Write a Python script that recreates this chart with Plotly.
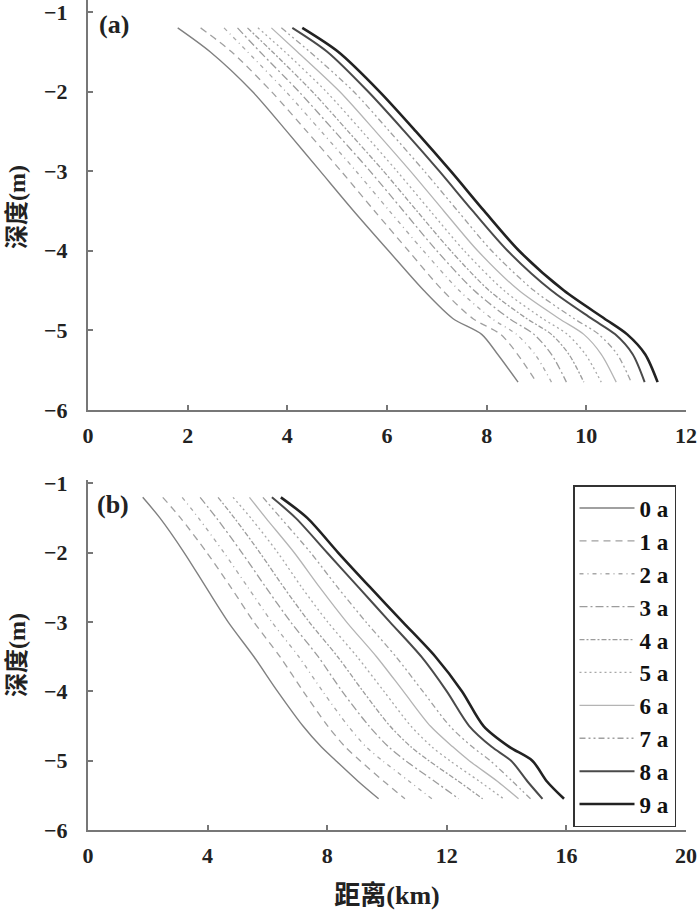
import plotly.graph_objects as go

# ---------------- data ----------------
years = ["0 a", "1 a", "2 a", "3 a", "4 a", "5 a", "6 a", "7 a", "8 a", "9 a"]

# panel (a): depth levels (m) and distance (km) of each yearly profile
depth_a = [-1.2, -1.5, -2.0, -2.5, -3.0, -3.5, -4.0, -4.5, -4.85, -5.05, -5.3, -5.65]
a_0 = [1.80, 2.45, 3.30, 3.99, 4.66, 5.33, 6.03, 6.74, 7.32, 7.90, 8.22, 8.63]
a_1 = [2.26, 2.88, 3.68, 4.39, 5.08, 5.75, 6.43, 7.12, 7.72, 8.28, 8.62, 9.00]
a_2 = [2.73, 3.20, 3.97, 4.68, 5.38, 6.05, 6.73, 7.45, 8.10, 8.60, 8.97, 9.30]
a_3 = [3.00, 3.45, 4.23, 4.95, 5.66, 6.33, 7.00, 7.75, 8.45, 8.95, 9.30, 9.60]
a_4 = [3.20, 3.70, 4.50, 5.22, 5.93, 6.60, 7.28, 8.05, 8.80, 9.30, 9.65, 9.95]
a_5 = [3.41, 3.95, 4.78, 5.50, 6.20, 6.87, 7.55, 8.35, 9.12, 9.62, 9.98, 10.30]
a_6 = [3.68, 4.20, 5.05, 5.77, 6.47, 7.14, 7.82, 8.65, 9.45, 9.95, 10.30, 10.60]
a_7 = [3.88, 4.45, 5.33, 6.05, 6.75, 7.42, 8.10, 8.95, 9.75, 10.25, 10.62, 10.90]
a_8 = [4.10, 4.80, 5.62, 6.35, 7.05, 7.72, 8.42, 9.30, 10.10, 10.58, 10.93, 11.17]
a_9 = [4.30, 5.02, 5.85, 6.58, 7.28, 7.95, 8.65, 9.55, 10.36, 10.82, 11.18, 11.43]

# panel (b)
depth_b = [-1.2, -1.5, -2.0, -2.5, -3.0, -3.5, -4.0, -4.5, -4.8, -5.0, -5.3, -5.55]
b_0 = [1.83, 2.41, 3.22, 3.95, 4.69, 5.55, 6.34, 7.19, 7.80, 8.29, 9.04, 9.72]
b_1 = [2.50, 3.10, 3.98, 4.78, 5.55, 6.42, 7.20, 8.02, 8.60, 9.10, 9.90, 10.60]
b_2 = [3.15, 3.70, 4.55, 5.35, 6.15, 7.05, 7.85, 8.70, 9.30, 9.85, 10.75, 11.50]
b_3 = [3.75, 4.30, 5.15, 5.95, 6.78, 7.70, 8.50, 9.40, 10.05, 10.62, 11.60, 12.40]
b_4 = [4.35, 4.90, 5.75, 6.55, 7.40, 8.35, 9.20, 10.10, 10.80, 11.40, 12.40, 13.20]
b_5 = [4.85, 5.45, 6.35, 7.15, 8.02, 9.00, 9.90, 10.80, 11.50, 12.10, 13.10, 13.90]
b_6 = [5.40, 5.95, 6.90, 7.75, 8.65, 9.65, 10.55, 11.45, 12.20, 12.75, 13.70, 14.40]
b_7 = [5.85, 6.45, 7.45, 8.35, 9.30, 10.30, 11.20, 12.10, 12.85, 13.45, 14.20, 14.80]
b_8 = [6.15, 6.95, 8.00, 9.05, 10.10, 11.15, 12.00, 12.75, 13.50, 14.15, 14.70, 15.20]
b_9 = [6.45, 7.34, 8.37, 9.44, 10.53, 11.62, 12.51, 13.23, 14.09, 14.86, 15.35, 15.92]

x_ticks_a = [0, 2, 4, 6, 8, 10, 12]
x_ticks_b = [0, 4, 8, 12, 16, 20]
y_ticks = [-1, -2, -3, -4, -5, -6]

series_a = [a_0, a_1, a_2, a_3, a_4, a_5, a_6, a_7, a_8, a_9]
series_b = [b_0, b_1, b_2, b_3, b_4, b_5, b_6, b_7, b_8, b_9]

# ---------------- styles ----------------
styles = [
    dict(color="#808080", width=1.4, dash="solid"),
    dict(color="#a0a0a0", width=1.3, dash="7px,5px"),
    dict(color="#a8a8a8", width=1.3, dash="4px,4px,1px,4px"),
    dict(color="#9c9c9c", width=1.3, dash="8px,3px,2px,3px"),
    dict(color="#9c9c9c", width=1.3, dash="5px,2px,2px,2px"),
    dict(color="#a8a8a8", width=1.3, dash="2px,3px"),
    dict(color="#b4b4b4", width=1.3, dash="solid"),
    dict(color="#a0a0a0", width=1.3, dash="6px,3px,2px,3px,2px,3px"),
    dict(color="#4a4a4a", width=2.0, dash="solid"),
    dict(color="#222222", width=2.6, dash="solid"),
]

SERIF = "Liberation Serif, Noto Sans CJK SC"

fig = go.Figure()
for i, yr in enumerate(years):
    fig.add_trace(go.Scatter(
        x=series_a[i], y=depth_a, mode="lines", name=yr, legendgroup=yr,
        showlegend=False, line=dict(styles[i], shape="spline", smoothing=0.8),
        xaxis="x", yaxis="y"))
for i, yr in enumerate(years):
    fig.add_trace(go.Scatter(
        x=series_b[i], y=depth_b, mode="lines", name=yr, legendgroup=yr,
        showlegend=True, line=dict(styles[i], shape="spline", smoothing=0.8),
        xaxis="x2", yaxis="y2"))

axis_common = dict(
    showline=True, linecolor="#777777", linewidth=2, mirror=False,
    ticks="inside", ticklen=5, tickwidth=1.5, tickcolor="#777777",
    showgrid=False, zeroline=False, automargin=False,
    ticklabeloverflow="allow",
    tickfont=dict(family=SERIF, size=22, color="#222222", weight="bold"),
)
title_font = dict(family=SERIF, size=26, color="#222222", weight="bold")
ytitle_font = dict(family=SERIF, size=24, color="#222222", weight="bold")

H = 914.0
L, R = 88, 14
PW = 700 - L - R
fig.update_layout(
    width=700, height=914,
    margin=dict(l=L, r=R, t=0, b=0),
    paper_bgcolor="white", plot_bgcolor="white",
    xaxis=dict(axis_common, domain=[0, 1], range=[0, 12], tickvals=x_ticks_a,
               anchor="y", ticklabelstandoff=5),
    yaxis=dict(axis_common, domain=[1 - 410 / H, 1.0], range=[-6, -0.85],
               tickvals=y_ticks, anchor="x", ticklabelstandoff=14),
    xaxis2=dict(axis_common, domain=[0, 1], range=[0, 20], tickvals=x_ticks_b,
                anchor="y2", ticklabelstandoff=5,
                title=dict(text="距离(km)", standoff=18, font=title_font)),
    yaxis2=dict(axis_common, domain=[1 - 830 / H, 1 - 480 / H], range=[-6, -0.95],
                tickvals=y_ticks, anchor="x2", ticklabelstandoff=14),
    legend=dict(
        x=(573 - L) / PW, y=1 - 485 / H, xanchor="left", yanchor="top",
        bgcolor="white", bordercolor="#333333", borderwidth=1.5,
        font=dict(family=SERIF, size=23, color="#111111", weight="bold"),
        tracegroupgap=0, itemwidth=55,
    ),
    annotations=[
        dict(text="(a)", xref="x domain", yref="y domain", x=0.015, y=0.94,
             xanchor="left", yanchor="middle", showarrow=False,
             font=dict(family=SERIF, size=26, color="#222222", weight="bold")),
        dict(text="(b)", xref="x2 domain", yref="y2 domain", x=0.012, y=0.93,
             xanchor="left", yanchor="middle", showarrow=False,
             font=dict(family=SERIF, size=26, color="#222222", weight="bold")),
        dict(text="深度(m)", xref="paper", yref="paper",
             x=(17 - L) / PW, y=1 - 207 / H, textangle=-90,
             xanchor="center", yanchor="middle", showarrow=False, font=ytitle_font),
        dict(text="深度(m)", xref="paper", yref="paper",
             x=(17 - L) / PW, y=1 - 655 / H, textangle=-90,
             xanchor="center", yanchor="middle", showarrow=False, font=ytitle_font),
    ],
)

fig.write_html("out.html", config={"displayModeBar": False},
               post_script="document.body.style.margin='0px';")
